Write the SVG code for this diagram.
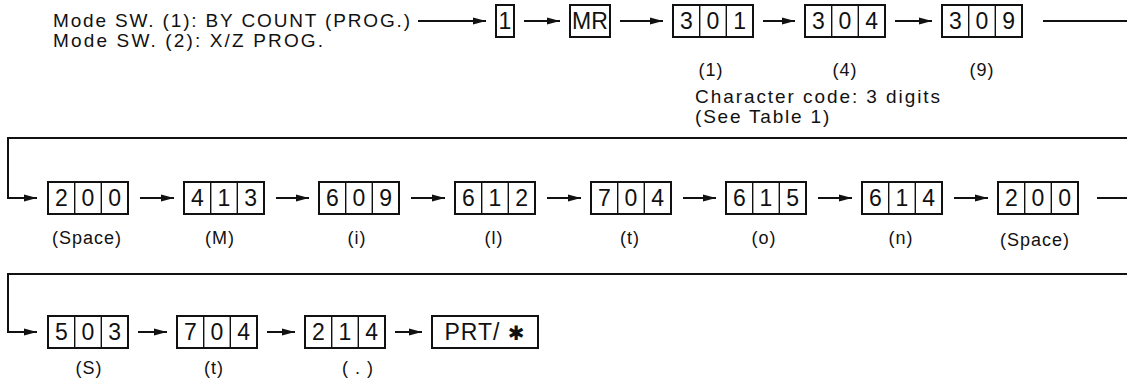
<svg xmlns="http://www.w3.org/2000/svg" width="1127" height="388" viewBox="0 0 1127 388">
<style>
.bx{fill:#fff;stroke:#111;stroke-width:2}
.dv{stroke:#111;stroke-width:1.4}
.dg{font-family:"Liberation Sans",Arial,sans-serif;font-size:23px;fill:#111;text-anchor:middle}
.lb{font-family:"Liberation Sans",Arial,sans-serif;font-size:18px;letter-spacing:1px;fill:#111;text-anchor:middle}
.tx{font-family:"Liberation Sans",Arial,sans-serif;font-size:19px;fill:#111}
.cn{fill:none;stroke:#111;stroke-width:2}
</style>
<defs>
<marker id="ah" markerWidth="13" markerHeight="8" refX="13" refY="4" orient="auto" markerUnits="userSpaceOnUse"><path d="M0,0.5 L13,4 L0,7.5 Z" fill="#111"/></marker>
<g id="cell3"><rect class="bx" x="0" y="0" width="80" height="32"/><line class="dv" x1="26.7" y1="0" x2="26.7" y2="32"/><line class="dv" x1="53.3" y1="0" x2="53.3" y2="32"/></g>
</defs>
<rect width="1127" height="388" fill="#fff"/>
<g id="header">
<text class="tx" x="53" y="27" textLength="357" lengthAdjust="spacing">Mode SW. (1):  BY COUNT (PROG.)</text>
<text class="tx" x="53" y="47" textLength="270" lengthAdjust="spacing">Mode SW. (2):  X/Z PROG.</text>
<text class="tx" x="695" y="103" textLength="245" lengthAdjust="spacing">Character code:  3 digits</text>
<text class="tx" x="695" y="123" letter-spacing="1.8">(See Table 1)</text>
</g>
<g id="connectors">
<line class="cn" x1="418" y1="21" x2="486" y2="21" marker-end="url(#ah)"/>
<line class="cn" x1="524" y1="21" x2="560" y2="21" marker-end="url(#ah)"/>
<line class="cn" x1="620" y1="21" x2="663" y2="21" marker-end="url(#ah)"/>
<line class="cn" x1="763" y1="21" x2="795" y2="21" marker-end="url(#ah)"/>
<line class="cn" x1="895" y1="21" x2="932" y2="21" marker-end="url(#ah)"/>
<line class="cn" x1="1043" y1="21" x2="1127" y2="21"/>
<polyline class="cn" points="1127,138 8,138 8,198 37,198" marker-end="url(#ah)"/>
<line class="cn" x1="140" y1="198" x2="174" y2="198" marker-end="url(#ah)"/>
<line class="cn" x1="276" y1="198" x2="309" y2="198" marker-end="url(#ah)"/>
<line class="cn" x1="411" y1="198" x2="445" y2="198" marker-end="url(#ah)"/>
<line class="cn" x1="547" y1="198" x2="581" y2="198" marker-end="url(#ah)"/>
<line class="cn" x1="683" y1="198" x2="716" y2="198" marker-end="url(#ah)"/>
<line class="cn" x1="818" y1="198" x2="852" y2="198" marker-end="url(#ah)"/>
<line class="cn" x1="954" y1="198" x2="988" y2="198" marker-end="url(#ah)"/>
<line class="cn" x1="1097" y1="198" x2="1127" y2="198"/>
<polyline class="cn" points="1127,274 8,274 8,332 37,332" marker-end="url(#ah)"/>
<line class="cn" x1="138" y1="332" x2="167" y2="332" marker-end="url(#ah)"/>
<line class="cn" x1="267" y1="332" x2="295" y2="332" marker-end="url(#ah)"/>
<line class="cn" x1="395" y1="332" x2="422" y2="332" marker-end="url(#ah)"/>
</g>
<g id="k1"><rect class="bx" x="496" y="5" width="18" height="32"/><text class="dg" x="505" y="29">1</text></g>
<g id="kMR"><rect class="bx" x="570" y="5" width="40" height="32"/><text class="dg" x="590" y="29" font-size="21">MR</text></g>
<g id="c301"><use href="#cell3" x="673" y="5"/><text class="dg" x="686.3" y="29">3</text><text class="dg" x="713" y="29">0</text><text class="dg" x="739.7" y="29">1</text><text class="lb" x="711" y="76">(1)</text></g>
<g id="c304"><use href="#cell3" x="805" y="5"/><text class="dg" x="818.3" y="29">3</text><text class="dg" x="845" y="29">0</text><text class="dg" x="871.7" y="29">4</text><text class="lb" x="845" y="76">(4)</text></g>
<g id="c309"><use href="#cell3" x="942" y="5"/><text class="dg" x="955.3" y="29">3</text><text class="dg" x="982" y="29">0</text><text class="dg" x="1008.7" y="29">9</text><text class="lb" x="982" y="76">(9)</text></g>
<g id="r2a"><use href="#cell3" x="48" y="182"/><text class="dg" x="61.3" y="206">2</text><text class="dg" x="88" y="206">0</text><text class="dg" x="114.7" y="206">0</text><text class="lb" x="87" y="244">(Space)</text></g>
<g id="r2b"><use href="#cell3" x="184" y="182"/><text class="dg" x="197.3" y="206">4</text><text class="dg" x="224" y="206">1</text><text class="dg" x="250.7" y="206">3</text><text class="lb" x="220" y="244">(M)</text></g>
<g id="r2c"><use href="#cell3" x="319" y="182"/><text class="dg" x="332.3" y="206">6</text><text class="dg" x="359" y="206">0</text><text class="dg" x="385.7" y="206">9</text><text class="lb" x="357" y="244">(i)</text></g>
<g id="r2d"><use href="#cell3" x="455" y="182"/><text class="dg" x="468.3" y="206">6</text><text class="dg" x="495" y="206">1</text><text class="dg" x="521.7" y="206">2</text><text class="lb" x="494" y="244">(l)</text></g>
<g id="r2e"><use href="#cell3" x="591" y="182"/><text class="dg" x="604.3" y="206">7</text><text class="dg" x="631" y="206">0</text><text class="dg" x="657.7" y="206">4</text><text class="lb" x="630" y="244">(t)</text></g>
<g id="r2f"><use href="#cell3" x="726" y="182"/><text class="dg" x="739.3" y="206">6</text><text class="dg" x="766" y="206">1</text><text class="dg" x="792.7" y="206">5</text><text class="lb" x="764" y="244">(o)</text></g>
<g id="r2g"><use href="#cell3" x="862" y="182"/><text class="dg" x="875.3" y="206">6</text><text class="dg" x="902" y="206">1</text><text class="dg" x="928.7" y="206">4</text><text class="lb" x="901" y="244">(n)</text></g>
<g id="r2h"><use href="#cell3" x="998" y="182"/><text class="dg" x="1011.3" y="206">2</text><text class="dg" x="1038" y="206">0</text><text class="dg" x="1064.7" y="206">0</text><text class="lb" x="1035" y="246">(Space)</text></g>
<g id="r3a"><use href="#cell3" x="48" y="316"/><text class="dg" x="61.3" y="340">5</text><text class="dg" x="88" y="340">0</text><text class="dg" x="114.7" y="340">3</text><text class="lb" x="89" y="374">(S)</text></g>
<g id="r3b"><use href="#cell3" x="177" y="316"/><text class="dg" x="190.3" y="340">7</text><text class="dg" x="217" y="340">0</text><text class="dg" x="243.7" y="340">4</text><text class="lb" x="214" y="374">(t)</text></g>
<g id="r3c"><use href="#cell3" x="305" y="316"/><text class="dg" x="318.3" y="340">2</text><text class="dg" x="345" y="340">1</text><text class="dg" x="371.7" y="340">4</text><text class="lb" x="358" y="374">( . )</text></g>
<g id="prt"><rect class="bx" x="432" y="316" width="106" height="32"/><text class="dg" x="485" y="340" font-size="22" letter-spacing="1">PRT/ <tspan font-family="'DejaVu Sans',sans-serif" font-size="20">✱</tspan></text></g>
</svg>
